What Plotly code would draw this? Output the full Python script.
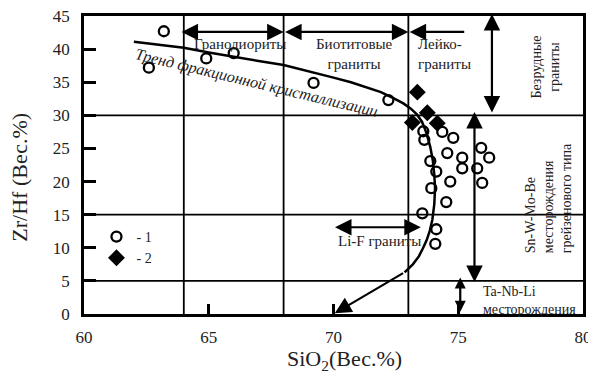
import plotly.graph_objects as go

# ---- data ----
circle_x = [63.2, 62.6, 64.9, 66.0, 69.2, 72.2,
            73.6, 73.64, 74.36, 74.8, 74.56, 75.16, 75.92, 76.24, 73.88, 74.12,
            75.16, 75.76, 74.68, 75.96, 73.92, 74.52, 73.56, 74.12, 74.08]
circle_y = [42.7, 37.2, 38.6, 39.4, 34.9, 32.3,
            27.6, 26.3, 27.5, 26.6, 24.3, 23.6, 25.1, 23.6, 23.1, 21.5,
            22.0, 22.0, 20.0, 19.8, 19.0, 16.9, 15.2, 12.8, 10.6]
diamond_x = [73.36, 73.76, 73.16, 74.16]
diamond_y = [33.5, 30.4, 28.9, 28.8]

trend_x = [62.0, 63.0, 64.0, 65.0, 66.0, 67.0, 68.0, 69.0, 70.0, 70.7, 71.3, 71.9, 72.4, 72.8, 73.1, 73.35,
           73.55, 73.72, 73.88, 73.98, 74.04, 74.07, 74.04, 73.96, 73.86, 73.74, 73.58, 73.42, 73.18, 72.85]
trend_y = [41.1, 40.7, 40.2, 39.5, 38.8, 38.2, 37.6, 36.7, 35.7, 35.0, 34.3, 33.5, 32.6, 31.8, 31.0, 30.1,
           29.0, 27.4, 25.2, 23.2, 21.0, 19.0, 16.6, 14.2, 12.6, 11.2, 9.9, 8.7, 7.5, 6.3]
trend_end = (70.05, 0.1)

x_ticks = [60, 65, 70, 75, 80]
y_ticks = [0, 5, 10, 15, 20, 25, 30, 35, 40, 45]
v_lines = [64, 68, 73]
h_lines = [30, 15, 5]

FONT = "Times New Roman, Liberation Serif, serif"
TXT = "#222"

fig = go.Figure()
fig.add_trace(go.Scatter(x=trend_x, y=trend_y, mode="lines", line=dict(color="black", width=2.5),
                         showlegend=False, hoverinfo="skip"))
fig.add_trace(go.Scatter(x=circle_x, y=circle_y, mode="markers", name="- 1",
                         marker=dict(symbol="circle-open", size=10, color="black", line=dict(width=2.3))))
fig.add_trace(go.Scatter(x=diamond_x, y=diamond_y, mode="markers", name="- 2",
                         marker=dict(symbol="diamond", size=13, color="black")))

shapes = []
for v in v_lines:
    shapes.append(dict(type="line", xref="x", yref="y", x0=v, x1=v, y0=0, y1=45,
                       line=dict(color="black", width=1.8), layer="below"))
for h in h_lines:
    shapes.append(dict(type="line", xref="x", yref="y", x0=60, x1=80, y0=h, y1=h,
                       line=dict(color="black", width=1.8), layer="below"))

ann = []
def arrow(x0, y0, x1, y1, both=True, size=1.5):
    ann.append(dict(x=x1, y=y1, ax=x0, ay=y0, xref="x", yref="y", axref="x", ayref="y",
                    text="", showarrow=True, arrowhead=2, arrowsize=size, arrowwidth=2.2,
                    startarrowhead=2, startarrowsize=size,
                    arrowside="end+start" if both else "end", arrowcolor="black"))

arrow(63.85, 42.6, 68.0, 42.6)
arrow(68.0, 42.6, 73.0, 42.6)
arrow(75.3, 42.6, 73.05, 42.6, both=False)
arrow(76.35, 30.2, 76.35, 45.3)
arrow(75.65, 4.6, 75.65, 30.5)
arrow(75.08, 0.1, 75.08, 5.5, size=1.0)
arrow(70.0, 13.1, 73.5, 13.1)
arrow(trend_x[-1], trend_y[-1], trend_end[0], trend_end[1], both=False)

def label(x, y, t, size=14, angle=0, align="center", xanchor="center", italic=False, ref="x"):
    ann.append(dict(x=x, y=y, xref=ref, yref="y" if ref == "x" else "paper", text=t, showarrow=False,
                    textangle=angle, align=align, xanchor=xanchor, yanchor="middle",
                    font=dict(family=FONT, size=size, color=TXT, style="italic" if italic else "normal")))

label(66.25, 40.8, "Гранодиориты", 15)
label(70.85, 39.3, "Биотитовые<br>граниты", 15)
label(73.3, 39.3, "Лейко-<br>граниты", 15, align="left", xanchor="left")
label(78.5, 37.3, "Безрудные<br>граниты", 14, angle=-90)
label(78.6, 17.5, "Sn-W-Mo-Be<br>месторождения<br>грейзенового типа", 14, angle=-90, align="left")
label(75.9, 2.1, "Ta-Nb-Li<br>месторождения", 14, align="left", xanchor="left")
label(71.85, 11.0, "Li-F граниты", 15)
label(66.9, 34.9, "Тренд фракционной кристаллизации", 16, angle=13.5, italic=True)

# axis titles
label(0.523, -0.155, "SiO<sub>2</sub>(Вес.%)", 22, ref="paper")
label(-0.130, 0.458, "Zr/Hf (Вес.%)", 22, angle=-90, ref="paper")

fig.update_layout(
    width=588, height=368,
    margin=dict(l=76, r=13, t=8, b=62, autoexpand=False),
    paper_bgcolor="white", plot_bgcolor="white",
    font=dict(family=FONT, color=TXT, size=17),
    shapes=shapes, annotations=ann,
    legend=dict(x=0.025, y=0.312, xanchor="left", yanchor="top", bgcolor="rgba(0,0,0,0)",
                font=dict(family=FONT, size=14, color=TXT), itemwidth=30, tracegroupgap=0),
    xaxis=dict(range=[60, 80], tickvals=x_ticks, ticktext=[str(v) for v in x_ticks], automargin=False,
               showgrid=False, zeroline=False, showline=True, mirror=True, linecolor="black", linewidth=2.5,
               ticks="inside", ticklen=10, tickwidth=2.5, tickcolor="black", ticklabelstandoff=6,
               ticklabeloverflow="allow"),
    yaxis=dict(range=[0, 45], tickvals=y_ticks, ticktext=[str(v) for v in y_ticks], automargin=False,
               showgrid=False, zeroline=False, showline=True, mirror=True, linecolor="black", linewidth=2.5,
               ticks="inside", ticklen=12, tickwidth=2.5, tickcolor="black", ticklabelstandoff=8,
               ticklabeloverflow="allow"),
)

fig.write_html("out.html")
